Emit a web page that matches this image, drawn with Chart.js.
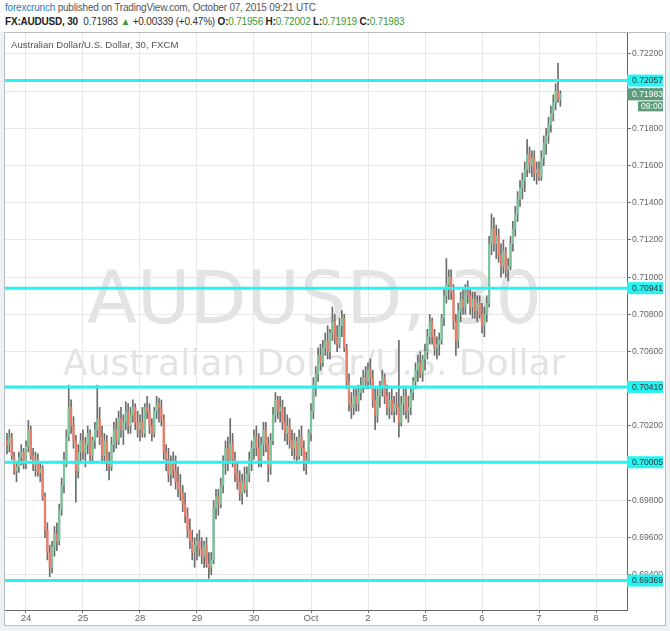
<!DOCTYPE html>
<html lang="en">
<head>
<meta charset="UTF-8">
<title>AUDUSD, 30</title>
<script src="https://cdn.jsdelivr.net/npm/chart.js"></script>
<style>
  body { margin: 0; width: 670px; height: 631px; background: #eef1f4; position: relative; overflow: hidden;
         font-family: "Liberation Sans", Arial, sans-serif; }
  #top { position: absolute; left: 0; top: 0; width: 670px; height: 32px; background: #fff; }
  .line { position: absolute; left: 5px; font-size: 10px; letter-spacing: -0.2px; white-space: nowrap; color: #555; }
  #l1 { top: 2px; }
  #l2 { top: 16px; color: #333; }
  .brand { color: #2d7bb6; }
  .g { color: #3a9a3a; }
  b { color: #222; }
  #box { position: absolute; left: 4px; top: 32px; width: 662px; height: 594px; box-sizing: border-box;
         border: 1px solid #b9bcc0; background: #fff; }
  canvas { display: block; }
</style>
</head>
<body>
<div id="top">
  <div class="line" id="l1"><span class="brand">forexcrunch</span> published on TradingView.com, October 07, 2015 09:21 UTC</div>
  <div class="line" id="l2"><b>FX:AUDUSD, 30</b>&nbsp; 0.71983 <span class="g">&#9650;</span> +0.00339 (+0.47%) <b>O:</b><span class="g">0.71956</span> <b>H:</b><span class="g">0.72002</span> <b>L:</b><span class="g">0.71919</span> <b>C:</b><span class="g">0.71983</span></div>
</div>
<div id="box"><canvas id="myChart" width="660" height="592" style="width:660px;height:592px"></canvas></div>

<script>
// hourly candles, first one starts 8 hours before Sep 24 00:00
const firstHour = -8;

const opens = [
  0.7012,0.7010,0.7014,0.7004,0.6996,0.6998,0.7003,0.7006,
  0.7000,0.7009,0.7018,0.7004,0.6999,0.7002,0.6995,0.6997,0.6982,0.6964,0.6952,0.6944,0.6955,0.6962,0.6958,0.6975,0.6988,0.7002,0.7014,0.7030,0.7020,0.7012,0.6996,0.7006,
  0.7012,0.7006,0.7010,0.7016,0.7004,0.7012,0.7018,0.7024,0.7014,0.7004,0.7012,0.7000,0.6998,0.7010,0.7018,0.7012,0.7024,0.7018,0.7022,0.7028,0.7020,0.7026,0.7030,0.7022,
  0.7018,0.7022,0.7016,0.7030,0.7028,0.7020,0.7016,0.7028,0.7032,0.7030,0.7024,0.7006,0.7002,0.6994,0.7000,0.6996,0.6990,0.6986,0.6984,0.6978,0.6972,0.6964,0.6958,0.6952,
  0.6956,0.6958,0.6954,0.6950,0.6956,0.6946,0.6944,0.6948,0.6976,0.6982,0.6978,0.6988,0.7000,0.7008,0.7002,0.7010,0.7002,0.6994,0.6990,0.6984,0.6990,0.6986,0.6994,0.7002,
  0.7008,0.7014,0.7008,0.7002,0.7010,0.7018,0.7010,0.6998,0.7012,0.7026,0.7034,0.7028,0.7030,0.7022,0.7016,0.7020,0.7012,0.7008,0.7012,0.7004,0.7014,0.7008,0.7000,0.7002,
  0.7016,0.7028,0.7042,0.7048,0.7058,0.7054,0.7062,0.7066,0.7060,0.7070,0.7076,0.7068,0.7064,0.7074,0.7078,0.7062,0.7044,0.7032,0.7030,0.7036,0.7032,0.7038,0.7042,0.7046,
  0.7044,0.7050,0.7046,0.7034,0.7026,0.7036,0.7040,0.7046,0.7036,0.7030,0.7034,0.7028,0.7032,0.7030,0.7022,0.7032,0.7036,0.7028,0.7030,0.7038,0.7044,0.7050,0.7054,0.7048,
  0.7056,0.7060,0.7068,0.7076,0.7068,0.7062,0.7064,0.7066,0.7078,0.7090,0.7096,0.7100,0.7092,0.7076,0.7066,0.7082,0.7088,0.7084,0.7092,0.7090,0.7084,0.7088,0.7082,0.7086,
  0.7080,0.7074,0.7080,0.7086,0.7118,0.7126,0.7118,0.7122,0.7112,0.7106,0.7114,0.7104,0.7106,0.7118,0.7126,0.7134,0.7142,0.7148,0.7152,0.7158,0.7166,0.7160,0.7164,0.7156,
  0.7158,0.7154,0.7164,0.7172,0.7176,0.7182,0.7188,0.7194,0.7200,0.71956
];
const highs = [
  0.7016,0.7018,0.7016,0.7006,0.7000,0.7006,0.7010,0.7008,
  0.7012,0.7023,0.7020,0.7008,0.7006,0.7005,0.7001,0.6999,0.6984,0.6968,0.6956,0.6958,0.6966,0.6968,0.6978,0.6992,0.7006,0.7018,0.7042,0.7034,0.7025,0.7015,0.7010,0.7016,
  0.7018,0.7014,0.7020,0.7018,0.7014,0.7022,0.7042,0.7030,0.7020,0.7016,0.7015,0.7006,0.7014,0.7022,0.7024,0.7028,0.7030,0.7026,0.7033,0.7032,0.7030,0.7034,0.7032,0.7028,
  0.7026,0.7030,0.7032,0.7036,0.7032,0.7024,0.7030,0.7036,0.7035,0.7034,0.7026,0.7010,0.7008,0.7004,0.7006,0.7004,0.6998,0.6994,0.6988,0.6984,0.6976,0.6970,0.6964,0.6960,
  0.6962,0.6964,0.6960,0.6958,0.6960,0.6952,0.6952,0.6980,0.6986,0.6986,0.6992,0.7004,0.7012,0.7014,0.7024,0.7016,0.7006,0.7000,0.6996,0.6994,0.6998,0.6998,0.7006,0.7012,
  0.7018,0.7020,0.7016,0.7014,0.7022,0.7022,0.7014,0.7016,0.7030,0.7038,0.7036,0.7036,0.7034,0.7030,0.7026,0.7024,0.7018,0.7016,0.7014,0.7018,0.7020,0.7012,0.7006,0.7018,
  0.7032,0.7046,0.7052,0.7062,0.7064,0.7066,0.7070,0.7074,0.7072,0.7084,0.7080,0.7074,0.7078,0.7082,0.7080,0.7064,0.7048,0.7038,0.7040,0.7040,0.7042,0.7046,0.7050,0.7052,
  0.7054,0.7056,0.7050,0.7040,0.7040,0.7044,0.7050,0.7048,0.7042,0.7038,0.7040,0.7036,0.7038,0.7066,0.7036,0.7040,0.7040,0.7036,0.7040,0.7046,0.7054,0.7058,0.7060,0.7058,
  0.7064,0.7072,0.7080,0.7078,0.7072,0.7068,0.7070,0.7080,0.7094,0.7110,0.7104,0.7104,0.7096,0.7080,0.7086,0.7092,0.7094,0.7096,0.7098,0.7094,0.7092,0.7092,0.7090,0.7090,
  0.7086,0.7084,0.7090,0.7122,0.7134,0.7132,0.7128,0.7126,0.7118,0.7120,0.7116,0.7110,0.7122,0.7130,0.7138,0.7146,0.7152,0.7156,0.7162,0.7174,0.7170,0.7168,0.7168,0.7162,
  0.7162,0.7168,0.7176,0.7180,0.7186,0.7192,0.7198,0.7204,0.7215,0.72002
];
const lows = [
  0.7005,0.7006,0.7002,0.6994,0.6990,0.6995,0.6999,0.6997,
  0.6997,0.7006,0.7002,0.6996,0.6993,0.6993,0.6990,0.6980,0.6960,0.6948,0.6939,0.6941,0.6950,0.6953,0.6956,0.6972,0.6984,0.6998,0.7012,0.7016,0.7008,0.6979,0.6992,0.7000,
  0.7002,0.6998,0.7005,0.7000,0.7000,0.7008,0.7014,0.7010,0.7000,0.7000,0.6996,0.6991,0.6996,0.7006,0.7008,0.7010,0.7014,0.7010,0.7018,0.7016,0.7016,0.7022,0.7018,0.7014,
  0.7012,0.7014,0.7014,0.7024,0.7016,0.7012,0.7014,0.7024,0.7022,0.7020,0.7002,0.6996,0.6990,0.6988,0.6992,0.6986,0.6982,0.6980,0.6974,0.6968,0.6960,0.6954,0.6948,0.6944,
  0.6948,0.6950,0.6946,0.6944,0.6944,0.6938,0.6940,0.6946,0.6970,0.6972,0.6976,0.6984,0.6994,0.6996,0.7000,0.6998,0.6990,0.6986,0.6980,0.6978,0.6984,0.6982,0.6990,0.6996,
  0.7002,0.7004,0.6998,0.6998,0.7004,0.7006,0.6990,0.6994,0.7010,0.7022,0.7024,0.7022,0.7018,0.7012,0.7010,0.7008,0.7004,0.7002,0.7000,0.7002,0.7004,0.6996,0.6994,0.7000,
  0.7012,0.7024,0.7036,0.7044,0.7050,0.7052,0.7058,0.7056,0.7056,0.7066,0.7064,0.7060,0.7062,0.7068,0.7060,0.7040,0.7028,0.7024,0.7026,0.7028,0.7028,0.7034,0.7038,0.7040,
  0.7040,0.7042,0.7030,0.7018,0.7022,0.7030,0.7036,0.7032,0.7026,0.7024,0.7026,0.7022,0.7026,0.7014,0.7020,0.7026,0.7024,0.7022,0.7026,0.7034,0.7040,0.7044,0.7046,0.7044,
  0.7050,0.7056,0.7064,0.7064,0.7058,0.7056,0.7058,0.7064,0.7074,0.7086,0.7088,0.7088,0.7072,0.7058,0.7062,0.7076,0.7080,0.7080,0.7086,0.7080,0.7078,0.7078,0.7076,0.7078,
  0.7070,0.7068,0.7076,0.7084,0.7112,0.7114,0.7110,0.7108,0.7100,0.7102,0.7100,0.7098,0.7104,0.7114,0.7122,0.7130,0.7138,0.7142,0.7146,0.7154,0.7156,0.7154,0.7152,0.7150,
  0.7152,0.7152,0.7160,0.7166,0.7172,0.7178,0.7184,0.7190,0.7194,0.71919
];
const closes = [
  0.7010,0.7014,0.7004,0.6996,0.6998,0.7003,0.7006,0.7000,
  0.7009,0.7018,0.7004,0.6999,0.7002,0.6995,0.6997,0.6982,0.6964,0.6952,0.6944,0.6955,0.6962,0.6958,0.6975,0.6988,0.7002,0.7014,0.7030,0.7020,0.7012,0.6996,0.7006,0.7012,
  0.7006,0.7010,0.7016,0.7004,0.7012,0.7018,0.7024,0.7014,0.7004,0.7012,0.7000,0.6998,0.7010,0.7018,0.7012,0.7024,0.7018,0.7022,0.7028,0.7020,0.7026,0.7030,0.7022,0.7018,
  0.7022,0.7016,0.7030,0.7028,0.7020,0.7016,0.7028,0.7032,0.7030,0.7024,0.7006,0.7002,0.6994,0.7000,0.6996,0.6990,0.6986,0.6984,0.6978,0.6972,0.6964,0.6958,0.6952,0.6956,
  0.6958,0.6954,0.6950,0.6956,0.6946,0.6944,0.6948,0.6976,0.6982,0.6978,0.6988,0.7000,0.7008,0.7002,0.7010,0.7002,0.6994,0.6990,0.6984,0.6990,0.6986,0.6994,0.7002,0.7008,
  0.7014,0.7008,0.7002,0.7010,0.7018,0.7010,0.6998,0.7012,0.7026,0.7034,0.7028,0.7030,0.7022,0.7016,0.7020,0.7012,0.7008,0.7012,0.7004,0.7014,0.7008,0.7000,0.7002,0.7016,
  0.7028,0.7042,0.7048,0.7058,0.7054,0.7062,0.7066,0.7060,0.7070,0.7076,0.7068,0.7064,0.7074,0.7078,0.7062,0.7044,0.7032,0.7030,0.7036,0.7032,0.7038,0.7042,0.7046,0.7044,
  0.7050,0.7046,0.7034,0.7026,0.7036,0.7040,0.7046,0.7036,0.7030,0.7034,0.7028,0.7032,0.7030,0.7022,0.7032,0.7036,0.7028,0.7030,0.7038,0.7044,0.7050,0.7054,0.7048,0.7056,
  0.7060,0.7068,0.7076,0.7068,0.7062,0.7064,0.7066,0.7078,0.7090,0.7096,0.7100,0.7092,0.7076,0.7066,0.7082,0.7088,0.7084,0.7092,0.7090,0.7084,0.7088,0.7082,0.7086,0.7080,
  0.7074,0.7080,0.7086,0.7118,0.7126,0.7118,0.7122,0.7112,0.7106,0.7114,0.7104,0.7106,0.7118,0.7126,0.7134,0.7142,0.7148,0.7152,0.7158,0.7166,0.7160,0.7164,0.7156,0.7158,
  0.7154,0.7164,0.7172,0.7176,0.7182,0.7188,0.7194,0.7200,0.7196,0.71983
];

// day labels on the time axis, at the hour each day starts
const dayLabels = ['24', '25', '28', '29', '30', 'Oct', '2', '5', '6', '7', '8'];
const dayStarts = [0, 24, 48, 72, 96, 120, 144, 168, 192, 216, 240];

const priceTicks = [0.694, 0.696, 0.698, 0.700, 0.702, 0.704, 0.706, 0.708, 0.710, 0.712, 0.714, 0.716, 0.718, 0.720, 0.722];
// horizontal levels drawn on the chart
const levels = [0.72057, 0.70941, 0.70410, 0.70005, 0.69369];
const lastPrice = 0.71983;
const lastTime = '09:00';

const hourMin = -8.84, hourMax = 253.05;
const priceMin = 0.692107, priceMax = 0.723129;

const CYAN = '#27f3f3';
const UP = '#7cc49b';
const DOWN = '#ec7c68';
const AXIS_FONT = '8.6px "Liberation Sans", Arial';

const hours = opens.map((_, i) => firstHour + i);

const wicks = hours.map((h, i) => ({ x: h, y: [lows[i], highs[i]] }));
const bodies = hours.map((h, i) => ({ x: h, y: [opens[i], closes[i]] }));
const bodyColors = hours.map((_, i) => closes[i] >= opens[i] ? UP : DOWN);

const levelSets = levels.map(v => ({
    type: 'line',
    data: [{ x: hourMin, y: v }, { x: hourMax, y: v }],
    borderColor: CYAN,
    borderWidth: 3,
    pointRadius: 0,
    order: 0
}));

const watermark = {
    id: 'watermark',
    beforeDatasetsDraw(chart) {
        const ctx = chart.ctx;
        ctx.save();
        ctx.fillStyle = '#e3e3e3';
        ctx.textBaseline = 'alphabetic';
        ctx.font = '73px "DejaVu Sans"';
        ctx.fillText('AUDUSD, 30', 82, 290);
        ctx.font = '36px "DejaVu Sans"';
        ctx.fillText('Australian Dollar/U.S. Dollar', 58, 342);
        ctx.fillStyle = '#555';
        ctx.font = '9.6px "Liberation Sans", Arial';
        ctx.textBaseline = 'middle';
        ctx.fillText('Australian Dollar/U.S. Dollar, 30, FXCM', 6, 12);
        ctx.restore();
    }
};

const axisTags = {
    id: 'axisTags',
    afterDraw(chart) {
        const ctx = chart.ctx;
        const y = chart.scales.y;
        const left = chart.chartArea.right;
        ctx.save();
        ctx.font = AXIS_FONT;
        ctx.textBaseline = 'middle';
        levels.forEach(v => {
            const py = y.getPixelForValue(v);
            ctx.fillStyle = CYAN;
            ctx.fillRect(left, py - 6, 36, 12);
            ctx.fillStyle = '#333';
            ctx.fillText(v.toFixed(5), left + 5, py + 0.5);
        });
        const py = y.getPixelForValue(lastPrice);
        ctx.fillStyle = '#5d9c7a';
        ctx.fillRect(left, py - 6, 36, 12);
        ctx.fillRect(left + 11, py + 7, 25, 10);
        ctx.fillStyle = '#fff';
        ctx.fillText(lastPrice.toFixed(5), left + 5, py + 0.5);
        ctx.fillText(lastTime, left + 14, py + 12.5);
        ctx.restore();
    }
};

// keep the plot edge exactly at the canvas edge (no room reserved for half tick labels)
function noLabelPadding(s) {
    s.paddingTop = 0;
    s.paddingBottom = 0;
    s.paddingLeft = 0;
    s.paddingRight = 0;
}

const ctx = document.getElementById('myChart').getContext('2d');
const myChart = new Chart(ctx, {
    type: 'bar',
    data: {
        datasets: [
            ...levelSets,
            {
                label: 'body',
                data: bodies,
                backgroundColor: bodyColors,
                barThickness: 1.6,
                grouped: false,
                order: 1
            },
            {
                label: 'wick',
                data: wicks,
                backgroundColor: '#6c6c6c',
                barThickness: 1,
                grouped: false,
                order: 2
            }
        ]
    },
    options: {
        responsive: false,
        animation: false,
        events: [],
        layout: { padding: 0 },
        plugins: { legend: { display: false }, tooltip: { enabled: false } },
        scales: {
            x: {
                type: 'linear',
                offset: false,
                min: hourMin,
                max: hourMax,
                afterBuildTicks: s => { s.ticks = dayStarts.map(v => ({ value: v })); },
                afterFit: s => { s.height = 15; noLabelPadding(s); },
                ticks: {
                    callback: v => dayLabels[dayStarts.indexOf(v)],
                    color: '#666',
                    font: { size: 9.6, family: '"Liberation Sans", Arial' },
                    padding: 0,
                    maxRotation: 0,
                    autoSkip: false
                },
                grid: { offset: false, color: '#e8e8e8', tickColor: '#777', tickLength: 3 },
                border: { color: '#666', width: 1 }
            },
            y: {
                position: 'right',
                min: priceMin,
                max: priceMax,
                afterBuildTicks: s => { s.ticks = priceTicks.map(v => ({ value: v })); },
                afterFit: s => { s.width = 38; noLabelPadding(s); },
                ticks: {
                    callback: v => v.toFixed(5),
                    color: '#666',
                    font: { size: 8.6, family: '"Liberation Sans", Arial' },
                    padding: 1
                },
                grid: { color: '#e8e8e8', tickColor: '#777', tickLength: 4 },
                border: { color: '#666', width: 1 }
            }
        }
    },
    plugins: [watermark, axisTags]
});
</script>
</body>
</html>
